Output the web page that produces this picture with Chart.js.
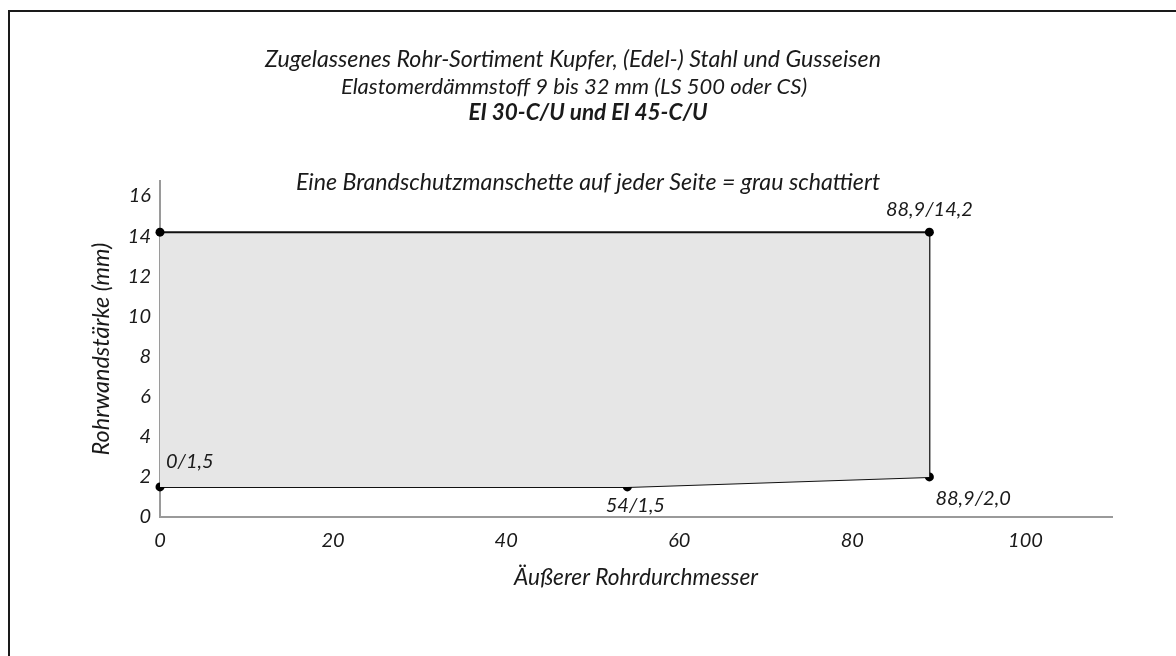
<!DOCTYPE html>
<html>
<head>
<meta charset="utf-8">
<script src="https://cdn.jsdelivr.net/npm/chart.js@4"></script>
<style>
  html, body { margin: 0; padding: 0; background: #fff; }
  #wrap { position: relative; width: 1176px; height: 656px; overflow: hidden; }
  #frame { position: absolute; left: 8px; top: 10px; width: 1200px; height: 700px; border: 2px solid #1a1a1a; }
  #c { position: absolute; left: 0; top: 0; }
</style>
</head>
<body>
<div id="wrap">
  <div id="frame"></div>
  <canvas id="c" width="1176" height="656"></canvas>
</div>
<script>
// Upper limit of the approved pipe range (wall thickness in mm)
const upperX = [0, 88.9];
const upperY = [14.2, 14.2];
// Lower limit of the approved pipe range
const lowerX = [0, 54, 88.9];
const lowerY = [1.5, 1.5, 2.0];
// Closing edge at the largest outer diameter
const edgeX = [88.9, 88.9];
const edgeY = [2.0, 14.2];

// Axis ranges and tick steps
const xRange = [0, 110];
const yRange = [0, 16.75];
const xStep = 20;
const yStep = 2;

// Texts
const headerLines = [
  'Zugelassenes Rohr-Sortiment Kupfer, (Edel-) Stahl und Gusseisen',
  'Elastomerdämmstoff 9 bis 32 mm (LS 500 oder CS)',
  'EI 30-C/U und EI 45-C/U',
  'Eine Brandschutzmanschette auf jeder Seite = grau schattiert'
];
const xTitle = 'Äußerer Rohrdurchmesser';
const yTitle = 'Rohrwandstärke (mm)';
// Corner point annotations: [dataset, point, text]
const cornerTags = [
  [1, 0, '0/1,5'],
  [1, 1, '54/1,5'],
  [1, 2, '88,9/2,0'],
  [0, 1, '88,9/14,2']
];

const toPoints = (xs, ys) => xs.map((x, i) => ({ x: x, y: ys[i] }));

const FONT = 'Lato';
const INK = '#1a1a1a';

// Header line positions (centre x, centre y) and fonts
const headerPos = [[573, 60], [574, 87], [588, 113], [588, 183]];
const headerFont = ['italic 23.2px ', 'italic 22px ', 'italic bold 22.5px ', 'italic 23.2px '];

// Placement of each corner annotation relative to its point
const tagPlacement = {
  '0/1,5':     { dx: 6, dy: -25, align: 'left' },
  '54/1,5':    { dx: 8, dy: 19, align: 'center' },
  '88,9/2,0':  { dx: 6, dy: 22, align: 'left' },
  '88,9/14,2': { dx: 0, dy: -23, align: 'center' }
};

const headerPlugin = {
  id: 'header',
  afterDraw(chart) {
    const ctx = chart.ctx;
    ctx.save();
    ctx.fillStyle = INK;
    ctx.textAlign = 'center';
    ctx.textBaseline = 'middle';
    headerLines.forEach((t, i) => {
      ctx.font = headerFont[i] + FONT;
      ctx.fillText(t, headerPos[i][0], headerPos[i][1]);
    });
    ctx.font = 'italic 20px ' + FONT;
    cornerTags.forEach(([ds, idx, text]) => {
      const el = chart.getDatasetMeta(ds).data[idx];
      const p = tagPlacement[text];
      ctx.textAlign = p.align;
      ctx.fillText(text, el.x + p.dx, el.y + p.dy);
    });
    ctx.restore();
  }
};

const lineStyle = {
  showLine: true,
  tension: 0,
  borderColor: '#111',
  borderWidth: 2,
  pointRadius: 4.5,
  pointHoverRadius: 4.5,
  pointBackgroundColor: '#000',
  pointBorderWidth: 0,
  clip: false
};

new Chart(document.getElementById('c'), {
  type: 'scatter',
  data: {
    datasets: [
      Object.assign({}, lineStyle, { data: toPoints(upperX, upperY), fill: '+1', backgroundColor: '#e6e6e6' }),
      Object.assign({}, lineStyle, { data: toPoints(lowerX, lowerY), fill: false }),
      Object.assign({}, lineStyle, { data: toPoints(edgeX, edgeY), fill: false, pointRadius: 0, pointHoverRadius: 0 })
    ]
  },
  options: {
    responsive: false,
    animation: false,
    events: [],
    layout: { padding: { top: 181, right: 64, bottom: 59, left: 0 } },
    plugins: { legend: { display: false }, tooltip: { enabled: false } },
    scales: {
      x: {
        type: 'linear',
        min: xRange[0],
        max: xRange[1],
        afterFit(s) { s.height = 80; },
        grid: { display: false, drawTicks: false },
        border: { display: true, color: '#9a9a9a', width: 2 },
        ticks: { stepSize: xStep, includeBounds: false, padding: 12, color: INK, font: { family: FONT, style: 'italic', size: 20 } },
        title: { display: true, text: xTitle, color: INK, padding: { top: 0, bottom: 6 }, font: { family: FONT, style: 'italic', size: 22.7 } }
      },
      y: {
        type: 'linear',
        min: yRange[0],
        max: yRange[1],
        afterFit(s) { s.width = 160; },
        grid: { display: false, drawTicks: false },
        border: { display: true, color: '#9a9a9a', width: 2 },
        ticks: { stepSize: yStep, includeBounds: false, padding: 9, color: INK, font: { family: FONT, style: 'italic', size: 20 } },
        title: { display: true, text: yTitle, color: INK, padding: { top: 87, bottom: 0 }, font: { family: FONT, style: 'italic', size: 23.5 } }
      }
    }
  },
  plugins: [headerPlugin]
});
</script>
</body>
</html>
